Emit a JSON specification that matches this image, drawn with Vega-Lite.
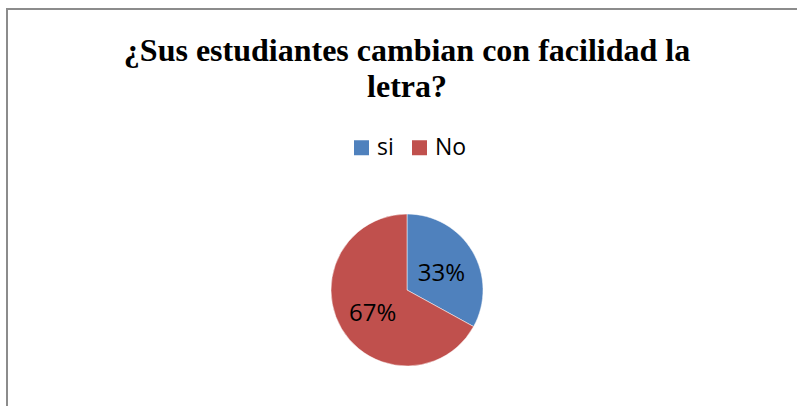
{
  "$schema": "https://vega.github.io/schema/vega-lite/v6.json",
  "autosize": {"type": "none"},
  "width": 800,
  "height": 562,
  "padding": {"left": 7, "top": 9, "right": 0, "bottom": 0},
  "background": "white",
  "config": {
    "view": {"stroke": null}
  },
  "title": {
    "text": ["¿Sus estudiantes cambian con facilidad la", "letra?"],
    "font": "Liberation Serif",
    "fontSize": 32,
    "fontWeight": "bold",
    "color": "black",
    "lineHeight": 36,
    "anchor": "middle",
    "baseline": "top",
    "offset": -96
  },
  "data": {
    "values": [
      {"respuesta": "si", "valor": 33, "etiqueta": "33%", "orden": 1},
      {"respuesta": "No", "valor": 67, "etiqueta": "67%", "orden": 2}
    ]
  },
  "layer": [
    {
      "data": {"values": [{"marco": "borde"}]},
      "mark": {"type": "rect", "fill": null, "stroke": "#8c8c8c", "strokeWidth": 2},
      "encoding": {}
    },
    {
      "mark": {"type": "arc", "outerRadius": 76, "stroke": "white", "strokeWidth": 0.5},
      "encoding": {
        "theta": {"field": "valor", "type": "quantitative", "stack": true},
        "order": {"field": "orden", "type": "ordinal"},
        "color": {
          "field": "respuesta",
          "type": "nominal",
          "scale": {"domain": ["si", "No"], "range": ["#4F81BD", "#C0504D"]},
          "legend": {
            "title": null,
            "orient": "none",
            "direction": "horizontal",
            "legendX": 343,
            "legendY": 127,
            "symbolType": "square",
            "symbolSize": 225,
            "symbolStrokeWidth": 0,
            "labelFont": "Open Sans",
            "labelFontSize": 23,
            "labelColor": "black",
            "labelOffset": 4,
            "columnPadding": 14
          }
        }
      }
    },
    {
      "mark": {"type": "text", "radius": 40, "dy": 4, "font": "Open Sans", "fontSize": 24, "color": "black"},
      "encoding": {
        "theta": {"field": "valor", "type": "quantitative", "stack": true},
        "order": {"field": "orden", "type": "ordinal"},
        "text": {"field": "etiqueta", "type": "nominal"}
      }
    }
  ]
}
